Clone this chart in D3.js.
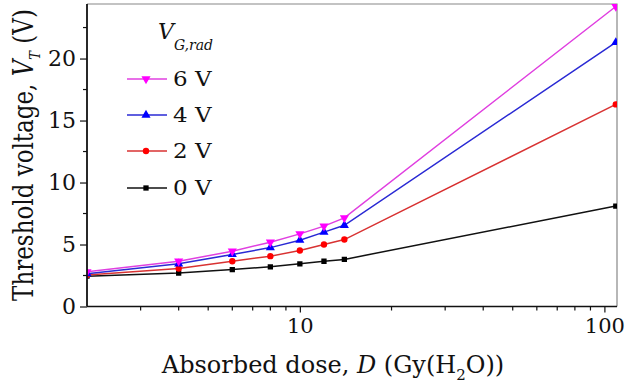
<!DOCTYPE html>
<html>
<head>
<meta charset="utf-8">
<script src="https://cdn.jsdelivr.net/npm/d3@7"></script>
<style>
  html, body { margin: 0; padding: 0; background: #fff; }
  svg { display: block; }
  text { font-family: "DejaVu Serif", serif; fill: #111; }
</style>
</head>
<body>
<svg id="chart" width="626" height="390"></svg>
<script>
// Absorbed dose (Gy(H2O)) at each measurement
const dose = [2, 4, 6, 8, 10, 12, 14, 109];

// Threshold voltage V_T (V) for each gate bias during irradiation
const vt0 = [2.45, 2.70, 2.98, 3.20, 3.44, 3.65, 3.80, 8.1];
const vt2 = [2.55, 3.06, 3.65, 4.06, 4.52, 5.00, 5.40, 16.3];
const vt4 = [2.65, 3.44, 4.20, 4.75, 5.35, 6.00, 6.55, 21.3];
const vt6 = [2.80, 3.65, 4.46, 5.19, 5.86, 6.48, 7.15, 24.2];

const seriesLabels = ["6 V", "4 V", "2 V", "0 V"];
const yTicks = [0, 5, 10, 15, 20];
const xTicks = [10, 100];

const series = [
  { label: seriesLabels[0], values: vt6, line: "#e040e0", fill: "#ff00ff", shape: "down" },
  { label: seriesLabels[1], values: vt4, line: "#2a2ad4", fill: "#0000ff", shape: "up" },
  { label: seriesLabels[2], values: vt2, line: "#d83232", fill: "#ff0000", shape: "circle" },
  { label: seriesLabels[3], values: vt0, line: "#111111", fill: "#000000", shape: "square" }
];

const svg = d3.select("#chart");
const L = 87, R = 617, T = 4, B = 306.5;

const x = d3.scaleLog().domain([2, 110]).range([L, R]);
const y = d3.scaleLinear().domain([0, 24.4]).range([B, T]);

svg.append("defs").append("clipPath").attr("id", "plotclip")
  .append("rect").attr("x", L).attr("y", T).attr("width", R - L).attr("height", B - T);

// frame (top and right)
svg.append("path")
  .attr("d", `M${L},${T}H${R}V${B}`)
  .attr("fill", "none").attr("stroke", "#888").attr("stroke-width", 1.2);

function symbolPath(shape) {
  if (shape === "square") return d3.symbol(d3.symbolSquare, 28)();
  if (shape === "circle") return d3.symbol(d3.symbolCircle, 32)();
  return d3.symbol(d3.symbolTriangle, 36)();
}
function drawMarker(g, shape, color, cx, cy) {
  g.append("path")
    .attr("d", symbolPath(shape))
    .attr("transform", `translate(${cx},${cy})` + (shape === "down" ? " rotate(180)" : ""))
    .attr("fill", color);
}

const plot = svg.append("g").attr("clip-path", "url(#plotclip)");
const line = d3.line().x((d, i) => x(dose[i])).y(d => y(d));

// draw bottom series first so the upper ones sit on top
series.slice().reverse().forEach(s => {
  plot.append("path")
    .attr("d", line(s.values))
    .attr("fill", "none").attr("stroke", s.line).attr("stroke-width", 1.5);
  s.values.forEach((v, i) => drawMarker(plot, s.shape, s.fill, x(dose[i]), y(v)));
});

// x axis with log minor ticks
const xMinor = [3, 4, 5, 6, 7, 8, 9, 20, 30, 40, 50, 60, 70, 80, 90];
const xAxis = svg.append("g").attr("transform", `translate(0,${B})`);
xAxis.call(d3.axisBottom(x).tickValues(xTicks).tickFormat(d3.format("d")).tickSize(6).tickPadding(6));
xMinor.forEach(v => {
  xAxis.append("line").attr("x1", x(v)).attr("x2", x(v)).attr("y1", 0).attr("y2", 4)
    .attr("stroke", "#111").attr("stroke-width", 1.2);
});
xAxis.select(".domain").attr("d", `M${L},0H${R}`).attr("stroke", "#111").attr("stroke-width", 1.5);
xAxis.selectAll(".tick line").attr("stroke", "#111").attr("stroke-width", 1.2);
xAxis.selectAll(".tick text").attr("font-size", 21).attr("font-family", "DejaVu Serif").attr("fill", "#111");

// y axis with half-step minor ticks
const yAxis = svg.append("g").attr("transform", `translate(${L},0)`);
yAxis.call(d3.axisLeft(y).tickValues(yTicks).tickSize(7).tickPadding(4));
[2.5, 7.5, 12.5, 17.5, 22.5].forEach(v => {
  yAxis.append("line").attr("x1", 0).attr("x2", -4).attr("y1", y(v)).attr("y2", y(v))
    .attr("stroke", "#111").attr("stroke-width", 1.2);
});
yAxis.select(".domain").attr("d", `M0,${T}V${B}`).attr("stroke", "#111").attr("stroke-width", 1.8);
yAxis.selectAll(".tick line").attr("stroke", "#111").attr("stroke-width", 1.2);
yAxis.selectAll(".tick text").attr("font-size", 22).attr("font-family", "DejaVu Serif").attr("fill", "#111");

// axis titles
const xt = svg.append("text").attr("x", 333).attr("y", 373).attr("text-anchor", "middle").attr("font-size", 24);
xt.append("tspan").text("Absorbed dose, ");
xt.append("tspan").attr("font-style", "italic").text("D");
xt.append("tspan").text(" (Gy(H");
xt.append("tspan").attr("font-size", 15).attr("dy", 7).text("2");
xt.append("tspan").attr("dy", -7).text("O))");

const yt = svg.append("text")
  .attr("transform", "translate(33,155) scale(1.2,1) rotate(-90)")
  .attr("text-anchor", "middle").attr("font-size", 23);
yt.append("tspan").text("Threshold voltage, ");
yt.append("tspan").attr("font-style", "italic").text("V");
yt.append("tspan").attr("font-style", "italic").attr("font-size", 13).attr("dy", 6).text("T");
yt.append("tspan").attr("dy", -6).text(" (V)");

// legend
const lg = svg.append("g");
const lt = lg.append("text").attr("x", 158).attr("y", 39).attr("font-size", 22).attr("font-style", "italic");
lt.append("tspan").text("V");
lt.append("tspan").attr("font-size", 14).attr("dy", 11).text("G,rad");

const rowY = [79, 115, 151, 188];
series.forEach((s, i) => {
  const cy = rowY[i];
  lg.append("line").attr("x1", 127).attr("x2", 167).attr("y1", cy).attr("y2", cy)
    .attr("stroke", s.line).attr("stroke-width", 1.5);
  drawMarker(lg, s.shape, s.fill, 146, cy);
  lg.append("text")
    .attr("transform", `translate(173,${cy + 7}) scale(1.15,1)`)
    .attr("font-size", 20).text(s.label);
});
</script>
</body>
</html>
